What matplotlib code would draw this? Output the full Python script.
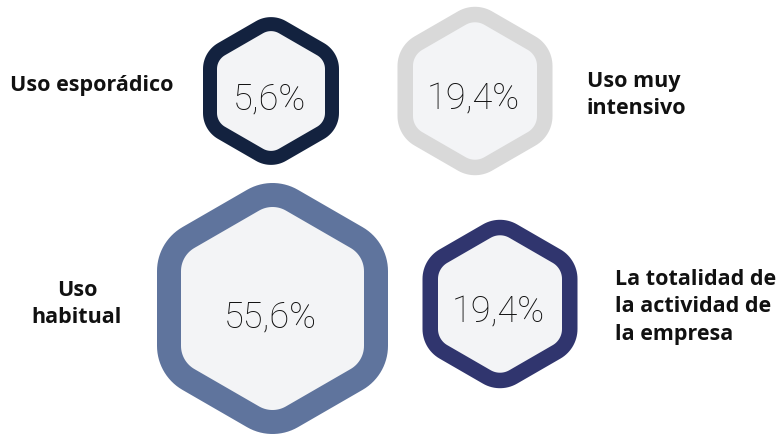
import numpy as np
import matplotlib
matplotlib.use("Agg")
import matplotlib.pyplot as plt
from matplotlib.patches import Polygon

# Data
categories = ["Uso esporádico", "Uso muy\nintensivo", "Uso\nhabitual",
              "La totalidad de\nla actividad de\nla empresa"]
values = [5.6, 19.4, 55.6, 19.4]
value_labels = [f"{v:.1f}".replace(".", ",") + "%" for v in values]

# Styling
ring_colors = ["#13223F", "#D9D9D9", "#5F749D", "#30356E"]
fill_color = "#F3F4F6"
text_color = "#111111"

# Layout in pixel units: hexagon centre, half width, ring thickness
centers = [(271, 91), (475, 91), (272.5, 308.5), (500, 304)]
half_widths = [68, 77.5, 115.5, 77.5]
ring_widths = [14, 15.5, 24, 15.5]
corner_ratio = 0.44

# Category label placement: x, first baseline, alignment, line spacing
label_layout = [(10, 91, "left", 27), (587, 87, "left", 27),
                (77, 296, "center", 27), (615, 285, "left", 27.5)]

W, H, DPI = 781, 434, 100


def rounded_hex(cx, cy, core_inradius, r, n=16):
    """Pointy-top hexagon with rounded corners (core hexagon grown by r)."""
    R = core_inradius / np.cos(np.radians(30))
    pts = []
    for i in range(6):
        th = np.radians(90 + 60 * i)
        vx, vy = cx + R * np.cos(th), cy - R * np.sin(th)
        for a in np.linspace(th - np.radians(30), th + np.radians(30), n):
            pts.append((vx + r * np.cos(a), vy - r * np.sin(a)))
    return np.array(pts)


fig = plt.figure(figsize=(W / DPI, H / DPI), dpi=DPI)
ax = fig.add_axes([0, 0, 1, 1])
ax.set_xlim(0, W)
ax.set_ylim(H, 0)
ax.set_aspect("equal")
ax.axis("off")

for (cx, cy), A, t, col, lab in zip(centers, half_widths, ring_widths,
                                     ring_colors, value_labels):
    rc = corner_ratio * A
    core = A - rc
    ax.add_patch(Polygon(rounded_hex(cx, cy, core, rc), closed=True,
                         facecolor=col, edgecolor="none"))
    ax.add_patch(Polygon(rounded_hex(cx, cy, core, rc - t), closed=True,
                         facecolor=fill_color, edgecolor="none"))
    ax.text(cx - 2, cy + 18.5, lab, ha="center", va="baseline",
            fontsize=26, family="Roboto", fontweight="light", color=text_color)

for cat, (x, y0, ha, dy) in zip(categories, label_layout):
    for i, line in enumerate(cat.split("\n")):
        ax.text(x, y0 + i * dy, line, ha=ha, va="baseline", fontsize=15.5,
                family="Open Sans", fontweight="bold", color=text_color)

fig.savefig("out.png", dpi=DPI)
